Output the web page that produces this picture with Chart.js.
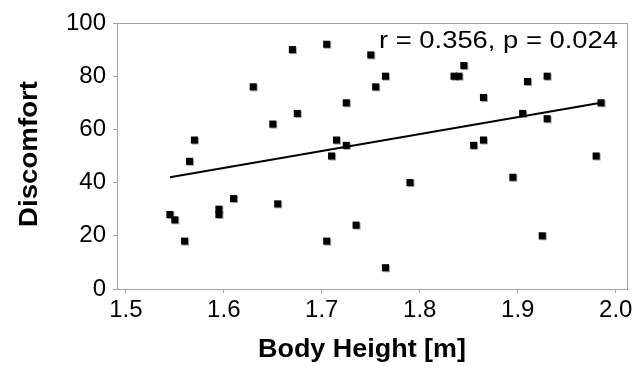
<!DOCTYPE html>
<html>
<head>
<meta charset="utf-8">
<script src="https://cdn.jsdelivr.net/npm/chart.js@4/dist/chart.umd.min.js"></script>
<style>
  body { margin: 0; background: #fff; }
  #wrap { width: 640px; height: 366px; }
</style>
</head>
<body>
<div id="wrap"><canvas id="scatterChart"></canvas></div>
<script>
// Dados
const bodyHeight = [
    1.545, 1.55, 1.56, 1.565, 1.57, 1.595, 1.595, 1.61, 1.63, 1.65,
    1.655, 1.67, 1.675, 1.705, 1.705, 1.71, 1.715, 1.725, 1.725, 1.735,
    1.75, 1.755, 1.765, 1.765, 1.79, 1.835, 1.84, 1.845, 1.855, 1.865,
    1.865, 1.895, 1.905, 1.91, 1.925, 1.93, 1.93, 1.98, 1.985
];
const discomfort = [
    28, 26, 18, 48, 56, 30, 28, 34, 76, 62,
    32, 90, 66, 92, 18, 50, 56, 70, 54, 24,
    88, 76, 80, 8, 40, 80, 80, 84, 54, 72,
    56, 42, 66, 78, 20, 80, 64, 50, 70
];

// Linha de regressão (extremos)
const trendX = [1.545, 1.985];
const trendY = [42, 70];

const xTicks = [1.5, 1.6, 1.7, 1.8, 1.9, 2.0];
const statsText = 'r = 0.356, p = 0.024';
const xTitle = 'Body Height [m]';
const yTitle = 'Discomfort';

const FONT = 'Liberation Sans, Arial, sans-serif';
const AXIS_GRAY = '#a0a0a0';

// Texto esticado na horizontal para caber numa largura fixa
function drawStretched(ctx, text, font, width, x, y, rot) {
    ctx.save();
    ctx.font = font;
    ctx.fillStyle = '#000';
    ctx.textAlign = 'center';
    ctx.textBaseline = 'alphabetic';
    const w = ctx.measureText(text).width;
    ctx.translate(x, y);
    if (rot) ctx.rotate(rot);
    ctx.scale(width / w, 1);
    ctx.fillText(text, 0, 0);
    ctx.restore();
}

// Moldura, títulos dos eixos e texto da estatística
const framePlugin = {
    id: 'frame',
    afterDraw(chart) {
        const ctx = chart.ctx;
        const a = chart.chartArea;
        ctx.save();
        ctx.strokeStyle = AXIS_GRAY;
        ctx.lineWidth = 1;
        ctx.strokeRect(Math.round(a.left) + 0.5, Math.round(a.top) + 0.5,
            Math.round(a.right - a.left), Math.round(a.bottom - a.top));
        ctx.restore();

        drawStretched(ctx, statsText, '23px ' + FONT, 239, 379 + 239 / 2, 48, 0);
        drawStretched(ctx, xTitle, 'bold 25px ' + FONT, 208, 362, 357, 0);
        drawStretched(ctx, yTitle, 'bold 25px ' + FONT, 146, 37, 154, -Math.PI / 2);
    },
    beforeDatasetDraw(chart, args) {
        if (args.index === 0) {
            const ctx = chart.ctx;
            ctx.save();
            ctx.shadowColor = 'rgba(0,0,0,0.35)';
            ctx.shadowOffsetX = 1;
            ctx.shadowOffsetY = 1;
            ctx.shadowBlur = 0;
        }
    },
    afterDatasetDraw(chart, args) {
        if (args.index === 0) chart.ctx.restore();
    }
};

const ctx = document.getElementById('scatterChart').getContext('2d');
new Chart(ctx, {
    type: 'scatter',
    data: {
        datasets: [{
            label: 'Discomfort',
            data: bodyHeight.map((x, i) => ({ x: x, y: discomfort[i] })),
            pointStyle: 'rect',
            pointRadius: 5,
            pointHoverRadius: 5,
            backgroundColor: '#000',
            borderColor: '#000',
            borderWidth: 0
        }, {
            label: 'Trend',
            type: 'line',
            data: trendX.map((x, i) => ({ x: x, y: trendY[i] })),
            borderColor: '#000',
            borderWidth: 2,
            pointRadius: 0,
            fill: false
        }]
    },
    options: {
        responsive: true,
        maintainAspectRatio: false,
        animation: false,
        layout: {
            padding: { left: 0, right: 13, top: 23, bottom: 0 }
        },
        plugins: {
            legend: { display: false },
            tooltip: { enabled: false }
        },
        scales: {
            x: {
                type: 'linear',
                min: 1.491,
                max: 2.0115,
                afterBuildTicks: function(scale) {
                    scale.ticks = xTicks.map(v => ({ value: v }));
                },
                afterFit: function(scale) {
                    scale.height = 77;
                },
                ticks: {
                    color: '#000',
                    font: { family: FONT, size: 24 },
                    padding: 3,
                    maxRotation: 0,
                    callback: v => Number(v).toFixed(1)
                },
                grid: {
                    drawOnChartArea: false,
                    color: AXIS_GRAY,
                    tickLength: 4
                },
                border: { color: AXIS_GRAY }
            },
            y: {
                min: 0,
                max: 100,
                afterFit: function(scale) {
                    scale.width = 117;
                },
                ticks: {
                    stepSize: 20,
                    color: '#000',
                    font: { family: FONT, size: 24 },
                    padding: 7
                },
                grid: {
                    drawOnChartArea: false,
                    color: AXIS_GRAY,
                    tickLength: 4
                },
                border: { color: AXIS_GRAY }
            }
        }
    },
    plugins: [framePlugin]
});
</script>
</body>
</html>
